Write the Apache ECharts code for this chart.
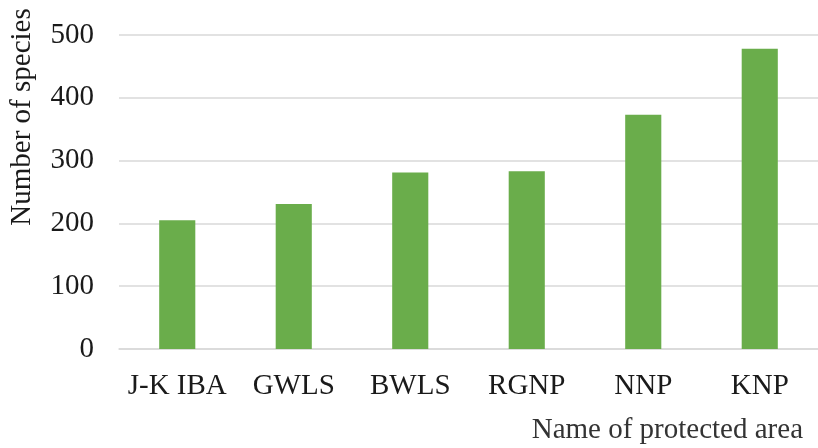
<!DOCTYPE html>
<html>
<head>
<meta charset="utf-8">
<script src="https://cdn.jsdelivr.net/npm/echarts@6/dist/echarts.min.js"></script>
<style>
html,body{margin:0;padding:0;background:#fff;}
#chart{width:818px;height:448px;}
</style>
</head>
<body>
<div id="chart"></div>
<script>
const categories = ['J-K IBA', 'GWLS', 'BWLS', 'RGNP', 'NNP', 'KNP'];
const speciesCounts = [205, 231, 281, 283, 373, 478];
const yTicks = [0, 100, 200, 300, 400, 500];

const font = '"Liberation Serif", "Times New Roman", serif';
const textColor = '#1a1a1a';

const chart = echarts.init(document.getElementById('chart'), null, {renderer: 'canvas'});
chart.setOption({
  animation: false,
  backgroundColor: '#ffffff',
  grid: {left: 115, right: -8, top: 35, bottom: 99, containLabel: false},
  xAxis: {
    type: 'category',
    data: categories,
    name: 'Name of protected area',
    nameLocation: 'end',
    nameGap: -15,
    nameTextStyle: {fontFamily: font, fontSize: 29, color: '#333', align: 'right', verticalAlign: 'top', padding: [67, 0, 0, 0]},
    axisLine: {show: true, lineStyle: {color: '#d9d9d9', width: 1.5}},
    axisTick: {show: false},
    axisLabel: {fontFamily: font, fontSize: 29, color: textColor, margin: 23, interval: 0}
  },
  yAxis: {
    type: 'value',
    min: yTicks[0],
    max: yTicks[yTicks.length - 1],
    interval: 100,
    name: 'Number of species',
    nameLocation: 'middle',
    nameGap: 82,
    nameRotate: 90,
    nameTextStyle: {fontFamily: font, fontSize: 29, color: textColor, padding: [0, 0, 0, 150]},
    axisLine: {show: false},
    axisTick: {show: false},
    splitLine: {lineStyle: {color: '#d9d9d9', width: 1.5}},
    axisLabel: {fontFamily: font, fontSize: 29, color: textColor, margin: 25}
  },
  series: [{
    type: 'bar',
    data: speciesCounts,
    barWidth: '31%',
    itemStyle: {color: '#6aad4b'}
  }]
});
</script>
</body>
</html>
